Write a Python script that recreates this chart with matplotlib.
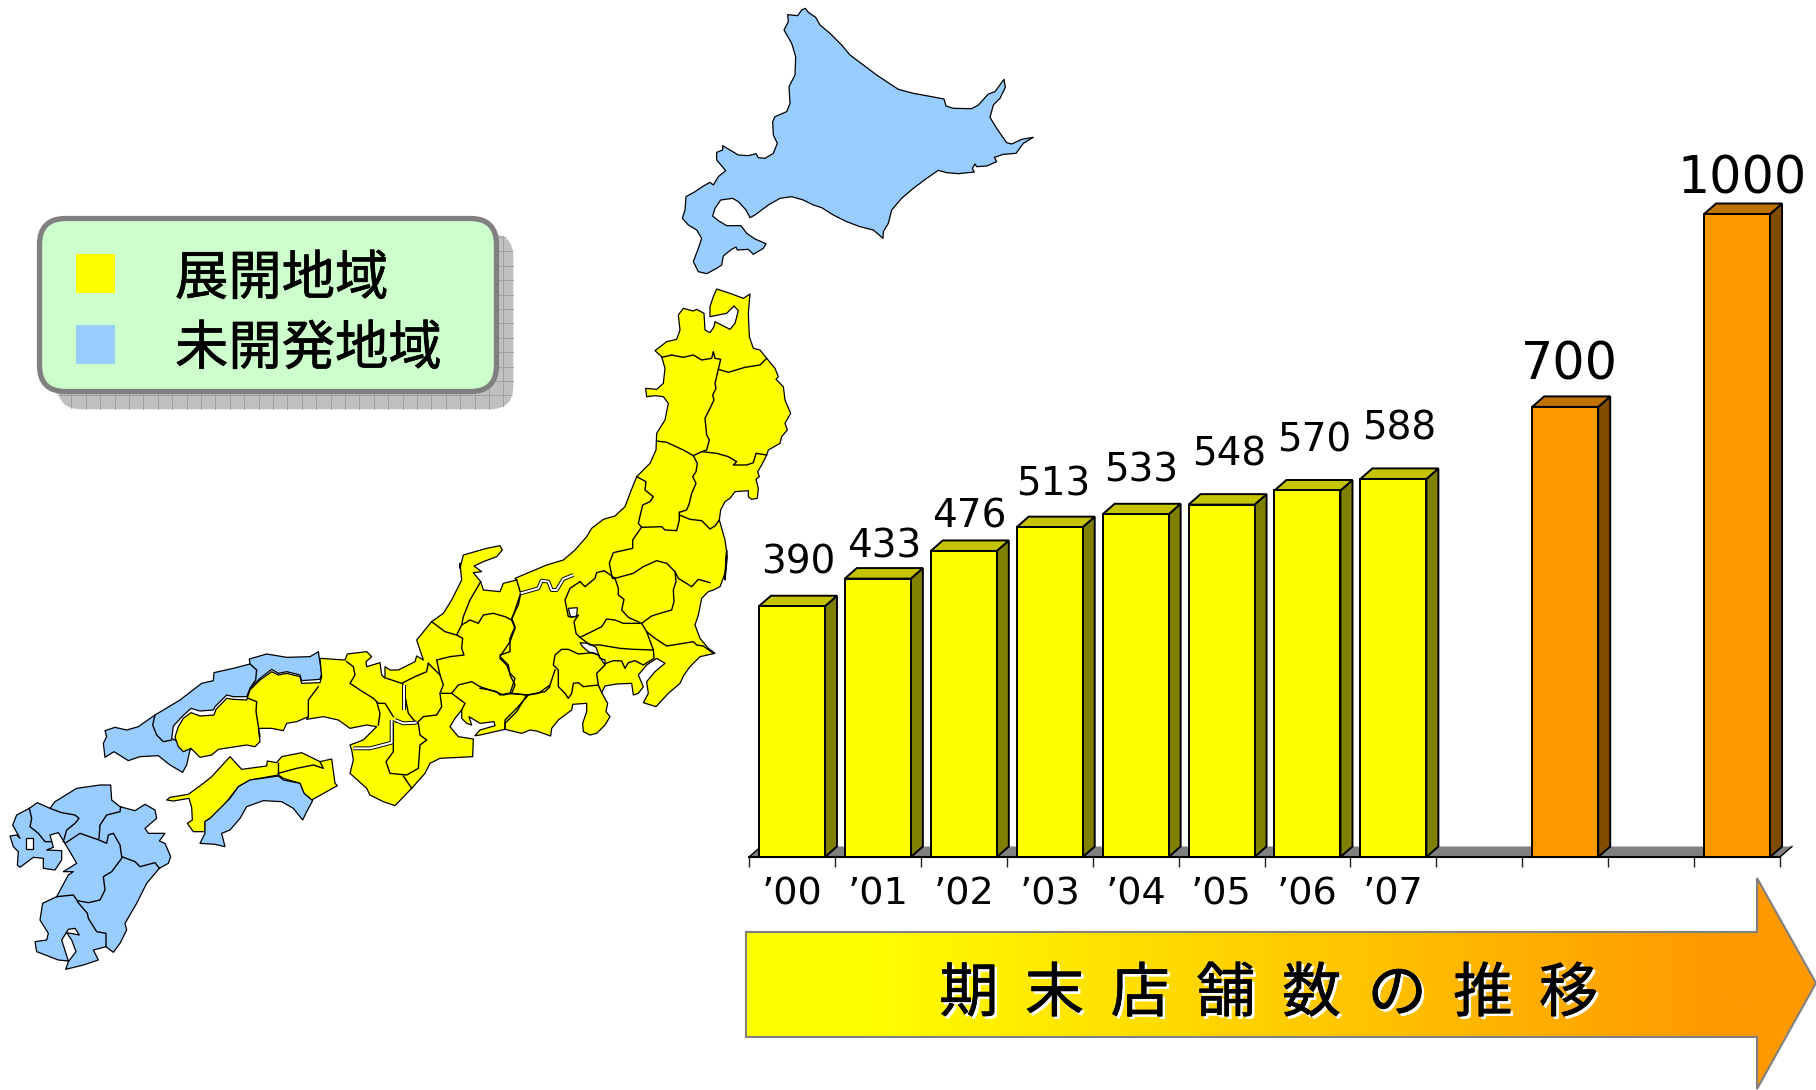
import numpy as np
import matplotlib
matplotlib.use('Agg')
import matplotlib.pyplot as plt
import matplotlib.patheffects as pe
from matplotlib.patches import Polygon, FancyBboxPatch, Rectangle
from matplotlib.colors import LinearSegmentedColormap

plt.rcParams['font.family'] = ['Noto Sans CJK JP', 'DejaVu Sans']

# chart data
year_labels = ['’00', '’01', '’02', '’03', '’04', '’05', '’06', '’07', '', '', '', '']
store_counts = [390, 433, 476, 513, 533, 548, 570, 588]
plan_slots = [9, 11]
plan_counts = [700, 1000]
legend_labels = ['展開地域', '未開発地域']
title_text = '期  末  店  舗  数  の  推  移'

YELLOW = '#FFFF00'
BLUE = '#99CCFF'
ORANGE = '#FF9900'

# label centres in pixels
store_label_pos = [(798, 562), (884, 546), (969, 516), (1053, 484), (1141, 470), (1229, 455), (1314, 440), (1399, 429)]
plan_label_pos = [(1569, 365), (1742, 179)]


def z(ox, oy, pts):
    return [(ox + x / 3, oy + y / 3) for x, y in pts]


Z1 = (660, 0)
Z2 = (400, 280)
Z3 = (150, 560)
Z4 = (0, 760)
Z9 = (500, 530)
Z10 = (90, 640)
Z12 = (480, 670)

hokkaido = z(*Z1, [(383,44),(413,47),(425,30),(436,25),(445,37),(467,52),(480,75),(510,100),(545,135),(570,165),(610,195),(650,225),(680,245),(715,268),(760,280),(815,290),(852,297),(858,318),(880,325),(935,326),(955,315),(985,282),(1005,275),(1032,238),(1036,262),(1020,295),(1000,315),(990,352),(1010,385),(1040,428),(1055,432),(1085,418),(1120,412),(1090,430),(1068,460),(1030,463),(1003,472),(1010,485),(980,498),(950,500),(945,492),(937,505),(943,516),(895,521),(860,518),(835,511),(800,535),(760,565),(725,595),(695,630),(685,670),(670,695),(669,715),(640,690),(600,680),(560,665),(520,645),(485,623),(460,615),(430,600),(395,590),(360,595),(325,615),(285,645),(270,653),(258,630),(235,605),(218,595),(182,600),(165,625),(158,648),(175,662),(200,677),(243,677),(260,700),(285,717),(318,731),(310,745),(280,763),(265,748),(232,750),(228,741),(212,750),(190,768),(185,795),(170,805),(140,821),(115,815),(100,785),(115,745),(125,715),(110,690),(85,675),(67,655),(75,630),(78,590),(105,575),(130,558),(150,547),(160,555),(175,530),(197,512),(170,480),(170,457),(188,450),(188,437),(210,450),(235,465),(265,467),(288,461),(295,473),(315,475),(340,460),(352,430),(340,405),(338,365),(345,350),(380,335),(390,310),(387,260),(405,225),(407,170),(395,130),(372,90),(385,65)])

honshu = (
    z(*Z2, [(950,27),(990,40),(1030,55),(1050,42),(1045,100),(1048,170),(1060,205),(1080,210),(1100,235),(1125,265),(1135,290),(1128,298),(1150,320),(1155,360),(1172,400),(1155,430),(1162,450),(1145,470),(1140,490),(1105,510),(1100,525),(1085,555),(1073,575),(1078,590),(1068,598),(1075,625),(1072,655),(1055,658),(1045,650),(1045,632),(1005,635),(990,655),(975,665),(962,690),(958,720),(975,780),(982,830),(975,900)])
    + z(*Z9, [(680,60),(675,130),(660,170),(640,180),(625,185),(605,205),(595,255),(585,285),(600,325),(625,355),(645,370),(600,380),(570,410),(552,435),(540,460),(505,490),(468,530),(430,518),(445,490),(440,455),(465,425),(495,400),(470,385),(440,405),(415,435),(430,470),(415,490),(400,495),(395,460),(350,462),(315,468),(305,488)])
    + z(*Z12, [(383,100),(378,125),(390,140),(375,165),(350,190),(330,195),(310,185),(308,160),(320,125),(320,100),(278,103),(275,120),(235,150),(215,175),(212,198),(170,183),(150,180),(125,190),(75,178),(0,195)])
    + z(*Z3, [(975,527),(990,510),(1035,497),(1032,485),(990,490),(957,470),(965,495),(950,490),(935,475),(935,450),(915,475),(900,500),(925,530),(970,537),(968,590),(870,595),(840,610),(825,640),(785,685),(735,737),(700,725),(660,705),(650,685),(600,640),(610,600),(605,570),(600,555),(640,540),(680,500),(650,495),(600,505),(565,480),(520,470),(470,478)])
    + z(*Z10, [(655,230),(620,245),(590,250),(580,272),(545,265),(505,265),(510,305),(495,320),(470,315),(385,328),(365,345),(330,352),(303,325),(280,335),(265,320),(255,291),(265,260),(280,235),(303,218),(330,228),(372,225),(378,208),(410,175),(430,178),(470,180),(480,150),(510,120),(545,95),(565,105),(590,100),(630,110),(635,130),(690,128)])
    + z(*Z3, [(515,350),(510,295),(585,300),(592,282),(650,275),(665,290),(648,305),(650,320),(690,308),(695,345),(705,355),(705,320),(720,330),(745,330),(795,305),(800,288),(820,300),(800,240),(845,185),(880,160),(905,120),(935,60),(930,10)])
    + z(*Z2, [(180,865),(190,825),(260,805),(300,797),(307,810),(290,830),(250,845),(222,858),(245,875)])
    + z(*Z3, [(970,38),(992,65),(1000,90),(1050,95),(1060,70),(1100,60)])
    + z(*Z2, [(345,895),(440,855),(490,840),(525,810),(560,770),(575,745),(610,718),(645,708),(675,680),(690,640),(710,590),(750,550),(768,510),(770,460),(795,420),(805,370),(790,350),(765,347),(740,350),(737,325),(770,328),(790,310),(795,265),(785,230),(765,212),(800,185),(830,178),(840,150),(835,105),(850,85),(880,93),(890,88),(912,100),(915,150),(930,158),(942,140),(945,125),(990,148),(1005,130),(1015,92),(1002,78),(980,100),(930,110),(930,80),(940,50)])
)

chugoku_blue = z(*Z10, [(45,272),(75,262),(110,270),(145,260),(195,225),(270,180),(335,130),(370,122),(372,98),(430,85),(480,72),(478,57),(530,42),(590,52),(660,50),(685,35),(695,100),(690,118),(635,122),(630,105),(590,95),(565,100),(545,88),(510,115),(480,145),(470,170),(430,170),(410,165),(375,200),(370,210),(330,213),(303,205),(278,228),(250,258),(245,295),(305,328),(300,330),(290,375),(278,397),(240,375),(205,347),(150,350),(115,362),(72,335),(45,352),(40,310),(50,290)])

shikoku_yellow = z(*Z3, [(50,720),(60,712),(115,703),(160,670),(185,650),(240,590),(275,628),(350,618),(352,603),(380,608),(395,590),(455,578),(510,605),(545,597),(555,670),(562,677),(485,720),(462,700),(450,670),(400,655),(385,645),(300,660),(265,680),(215,745),(180,775),(165,785),(165,815),(130,815),(112,790),(127,780),(125,742),(117,715),(70,723)])
shikoku_blue = z(*Z3, [(165,785),(180,775),(210,745),(240,715),(265,680),(300,660),(385,648),(400,660),(450,670),(462,700),(488,722),(470,755),(458,780),(430,745),(395,725),(340,722),(290,740),(270,775),(240,810),(215,820),(225,860),(195,853),(150,850),(165,820)])

kyushu = z(*Z4, [(230,85),(300,75),(332,75),(335,120),(360,140),(405,152),(435,133),(465,150),(470,175),(435,205),(445,220),(495,220),(478,243),(495,250),(512,290),(505,310),(478,325),(440,370),(410,430),(375,490),(380,510),(360,550),(340,577),(318,560),(300,565),(280,570),(295,600),(250,615),(197,628),(205,605),(228,575),(215,540),(200,518),(238,525),(225,505),(205,508),(185,540),(205,603),(175,600),(110,575),(105,545),(140,540),(145,520),(120,480),(128,430),(170,410),(205,345),(220,335),(190,335),(230,310),(195,250),(175,218),(150,225),(160,262),(140,270),(185,272),(185,300),(165,330),(130,325),(130,295),(100,292),(60,322),(52,315),(55,275),(40,260),(30,228),(50,225),(60,235),(38,195),(50,165),(88,145),(112,128),(150,145),(165,125)])
omura_bay = z(*Z4, [(78,235),(100,235),(100,268),(78,268)])

# prefecture borders
map_borders = [
    z(*Z2, [(785,232),(815,225),(850,232),(880,225),(905,240),(935,235),(940,215),(945,235),(962,238),(955,268),(985,277),(1035,262),(1080,255),(1100,235)]),
    z(*Z2, [(955,268),(945,310),(948,325),(938,345),(942,360),(930,385),(915,415),(920,465),(928,480),(920,510),(905,515),(880,527)]),
    z(*Z2, [(770,483),(800,487),(850,510),(880,527)]),
    z(*Z2, [(905,515),(950,520),(985,530),(1010,545),(1000,555),(1040,555),(1060,548),(1068,520),(1100,525)]),
    z(*Z2, [(880,527),(892,550),(888,575),(878,590),(888,610),(875,640),(868,670),(860,690),(838,697)]),
    z(*Z2, [(710,590),(738,605),(735,630),(760,650),(750,665),(728,675),(722,700),(715,730),(725,742),(785,740),(795,750),(830,752),(838,720),(838,697)]),
    z(*Z2, [(838,705),(870,718),(905,722),(930,747),(945,738),(958,720)]),
    z(*Z9, [(425,-9),(398,30),(398,55),(340,68),(328,100),(337,145),(345,145)]),
    z(*Z9, [(240,155),(255,170),(285,145),(290,128),(313,122),(345,145)]),
    z(*Z9, [(345,145),(400,130),(430,110),(470,92),(500,100),(525,125),(535,145),(575,170),(595,148),(630,158)]),
    z(*Z9, [(345,145),(355,175),(355,195),(372,208),(365,240),(385,262),(420,278)]),
    z(*Z9, [(525,125),(528,155),(520,180),(522,215),(515,240),(480,250),(455,258),(425,280)]),
    z(*Z9, [(425,280),(440,305),(465,325),(500,348),(550,340),(580,335),(590,345),(610,348),(640,370)]),
    z(*Z9, [(240,322),(265,310),(305,290),(320,267),(345,270),(370,280),(420,280)]),
    z(*Z9, [(240,155),(210,175),(195,210),(200,235),(205,260),(230,260),(235,255),(222,275),(228,310),(240,322)]),
    z(*Z9, [(440,305),(460,360),(400,358),(360,355),(300,345),(270,345),(240,322)]),
    z(*Z9, [(460,360),(462,385),(430,405),(405,392),(385,398),(375,415),(365,393),(340,392),(318,400)]),
    z(*Z9, [(295,375),(280,368),(235,372),(205,358),(185,358),(165,375),(160,405),(175,420),(175,470),(195,490),(205,505),(215,490),(220,460),(235,458),(250,470),(295,465),(290,430),(315,405)]),
    z(*Z9, [(295,465),(305,488)]),
    z(*Z9, [(62,190),(55,225),(35,265),(45,290),(30,325),(30,365),(0,375)]),
    z(*Z9, [(0,385),(20,405),(30,430),(45,445),(30,490)]),
    z(*Z12, [(145,75),(110,115),(75,150),(75,178)]),
    z(*Z12, [(0,55),(30,60),(50,65),(60,75),(85,70),(145,75),(175,70),(210,45),(225,0)]),
    z(*Z3, [(992,65),(960,120),(940,170),(935,195),(960,180),(985,190),(1000,165),(1030,160),(1065,170),(1085,180),(1112,100),(1100,60)]),
    z(*Z3, [(1085,180),(1095,205),(1080,245),(1050,290),(1075,315),(1080,345),(1095,375),(1085,400)]),
    z(*Z3, [(845,185),(885,215),(920,225),(935,195)]),
    z(*Z3, [(920,225),(938,235),(935,265),(942,285),(900,290),(860,300),(870,345),(880,375),(870,400),(905,400),(925,375),(965,365),(990,380),(1035,395),(1060,405),(1085,400),(1130,405),(1185,395),(1200,380)]),
    z(*Z3, [(1130,405),(1100,455),(1065,490),(1065,507)]),
    z(*Z3, [(835,310),(830,335),(795,350),(755,370),(710,355)]),
    z(*Z3, [(835,310),(870,345)]),
    z(*Z3, [(870,400),(875,440),(860,465),(820,470),(800,490),(775,460),(758,370)]),
    z(*Z3, [(905,400),(945,430),(935,450)]),
    z(*Z3, [(735,485),(790,490),(805,490),(810,525),(830,540),(810,555),(805,625),(770,645),(720,640),(708,605),(730,575),(730,490)]),
    z(*Z3, [(760,648),(785,685)]),
    z(*Z3, [(590,305),(610,320),(615,345),(600,370),(630,390),(670,415),(685,430),(705,430),(730,470)]),
    z(*Z3, [(680,425),(690,460),(685,495)]),
    z(*Z10, [(475,175),(500,185),(498,215),(510,290)]),
    z(*Z10, [(655,230),(655,180),(685,140)]),
    z(*Z10, [(195,225),(188,255),(200,285),(220,305),(245,300)]),
    z(*Z10, [(480,72),(500,90),(497,120),(480,145)]),
    z(*Z3, [(385,610),(385,645)]),
    z(*Z3, [(385,640),(440,625),(490,615),(520,625),(510,605)]),
    z(*Z4, [(88,145),(95,175),(90,200),(115,220),(135,245),(155,245)]),
    z(*Z4, [(150,145),(185,158),(225,165),(237,175),(225,190),(200,210),(190,245)]),
    z(*Z4, [(362,140),(360,155),(320,165),(300,195),(297,235)]),
    z(*Z4, [(195,250),(240,220),(297,240),(320,250),(325,225),(340,220),(360,255),(365,290)]),
    z(*Z4, [(365,290),(405,305),(420,320),(465,308),(478,325)]),
    z(*Z4, [(365,295),(335,335),(310,350),(315,390),(300,420),(265,428),(232,422),(220,405),(170,410)]),
    z(*Z4, [(232,425),(262,460),(265,475),(290,515),(318,520),(318,560)]),
]

# white double lines between some prefectures
map_gaps = [
    z(*Z9, [(62,190),(115,175),(125,152),(145,155),(155,180),(170,180),(190,147),(220,135)]),
    z(*Z3, [(763,375),(763,450)]),
    z(*Z3, [(610,565),(660,565),(725,548),(725,480)]),
    z(*Z3, [(735,480),(760,490),(800,488)]),
]
lake_strip = z(*Z9, [(240,338),(265,340),(288,352),(300,385),(315,390),(315,405),(295,375),(265,365),(248,350)])
lake_suwa = z(*Z9, [(205,235),(232,233),(230,258),(212,262)])

fig = plt.figure(figsize=(18.16, 10.9), dpi=100)
bg = fig.add_axes([0, 0, 1, 1])
bg.axis('off')

# map
for pts in [hokkaido, chugoku_blue, kyushu]:
    bg.add_patch(Polygon(pts, closed=True, fc=BLUE, ec='black', lw=0.9, joinstyle='round'))
bg.add_patch(Polygon(honshu, closed=True, fc=YELLOW, ec='black', lw=0.9, joinstyle='round'))
bg.add_patch(Polygon(shikoku_yellow, closed=True, fc=YELLOW, ec='black', lw=0.9, joinstyle='round'))
bg.add_patch(Polygon(shikoku_blue, closed=True, fc=BLUE, ec='black', lw=0.9, joinstyle='round'))
for pts in [omura_bay, lake_strip, lake_suwa]:
    bg.add_patch(Polygon(pts, closed=True, fc='white', ec='black', lw=0.9))
for line in map_borders:
    xs, ys = zip(*line)
    bg.plot(xs, ys, color='black', lw=1.0, solid_joinstyle='round')
for line in map_gaps:
    xs, ys = zip(*line)
    bg.plot(xs, ys, color='black', lw=2.8, solid_capstyle='butt')
    bg.plot(xs, ys, color='white', lw=1.4, solid_capstyle='butt')

# legend box with its grid shadow
shadow = FancyBboxPatch((57 + 24, 233 + 24), 457 - 48, 177 - 48, boxstyle='round,pad=24,rounding_size=24',
                        fc='#C0C0C0', ec='white', lw=1.0, zorder=3)
bg.add_patch(shadow)
for gx in np.arange(57, 515, 14.4):
    bg.plot([gx, gx], [233, 410], color='#A0A0A0', lw=0.7, zorder=3.1, clip_path=shadow)
for gy in np.arange(237, 411, 14.4):
    bg.plot([57, 514], [gy, gy], color='#A0A0A0', lw=0.7, zorder=3.1, clip_path=shadow)
bg.add_patch(FancyBboxPatch((39.5 + 26, 218.5 + 26), 457 - 52, 173 - 52, boxstyle='round,pad=26,rounding_size=26',
                            fc='#CCFFCC', ec='#808080', lw=3.8, zorder=4))
bg.add_patch(Rectangle((76, 254), 39, 39, fc=YELLOW, ec='none', zorder=5))
bg.add_patch(Rectangle((76, 325), 39, 39, fc=BLUE, ec='none', zorder=5))
bold_black = [pe.withStroke(linewidth=0.5, foreground='black')]
bold_white = [pe.withStroke(linewidth=0.5, foreground='white')]
for label, y in zip(legend_labels, [273, 343]):
    bg.text(175, y, label, fontsize=38.4, color='black', ha='left', va='center_baseline', zorder=6, path_effects=bold_black)

# gradient arrow
arrow_pts = [(746, 932), (1757, 932), (1757, 878), (1816, 983), (1757, 1089), (1757, 1037), (746, 1037)]
arrow = Polygon(arrow_pts, closed=True, fc='none', ec='#808080', lw=1.5, zorder=3)
cmap = LinearSegmentedColormap.from_list('arrow', [YELLOW, ORANGE])
grad = np.clip((np.arange(746, 1817) - 860) / (1720 - 860), 0, 1).reshape(1, -1)
img = bg.imshow(grad, cmap=cmap, aspect='auto', extent=(746, 1816, 1090, 878), zorder=2.9)
bg.add_patch(arrow)
img.set_clip_path(arrow)
bg.set_xlim(0, 1816)
bg.set_ylim(1090, 0)
bg.text(1271, 990.5, title_text, fontsize=42.6, color='white', ha='center', va='center_baseline', zorder=4, path_effects=bold_white)
bg.text(1268.5, 988, title_text, fontsize=42.6, color='black', ha='center', va='center_baseline', zorder=5, path_effects=bold_black)

# bar chart, 12 slots from x=749 to 1780, baseline y=857
ax = fig.add_axes([749 / 1816, (1090 - 857) / 1090, 1031 / 1816, 757 / 1090])
ax.patch.set_alpha(0)
ax.set_xlim(0, 12)
ax.set_ylim(0, 757 / 0.643)
for s in ['top', 'left', 'right']:
    ax.spines[s].set_visible(False)
ax.spines['bottom'].set_linewidth(1.5)
ax.set_yticks([])
ax.set_xticks(np.arange(13))
ax.set_xticklabels([])
ax.set_xticks(np.arange(12) + 0.5, labels=year_labels, minor=True)
ax.tick_params(axis='x', which='major', length=7.5, width=1.0, color='#222222')
ax.tick_params(axis='x', which='minor', length=0, pad=14)
for t in ax.get_xticklabels(minor=True):
    t.set_fontsize(27.5)
    t.set_fontfamily('DejaVu Sans')

DEPTH_X = 12 / 85.9
DEPTH_Y = 10.5 / 0.643
BAR_W = 66 / 85.9

ax.add_patch(Polygon([(0, 0), (12, 0), (12 + DEPTH_X, DEPTH_Y), (DEPTH_X, DEPTH_Y)], closed=True,
                     fc='#808080', ec='none', clip_on=False, zorder=1))
for x0 in [0, 12]:
    ax.plot([x0, x0 + DEPTH_X], [0, DEPTH_Y], color='black', lw=1.0, clip_on=False, zorder=1)


def bar3d(xc, val, front, top, side):
    x0 = xc - BAR_W / 2
    x1 = xc + BAR_W / 2
    ax.add_patch(Polygon([(x1, 0), (x1 + DEPTH_X, DEPTH_Y), (x1 + DEPTH_X, val + DEPTH_Y), (x1, val)], closed=True,
                         fc=side, ec='black', lw=1.4, clip_on=False, zorder=2))
    ax.add_patch(Polygon([(x0, val), (x1, val), (x1 + DEPTH_X, val + DEPTH_Y), (x0 + DEPTH_X, val + DEPTH_Y)], closed=True,
                         fc=top, ec='black', lw=1.4, clip_on=False, zorder=2))
    ax.bar(xc, val, width=BAR_W, color=front, edgecolor='black', linewidth=1.4, zorder=3)


for i, v in enumerate(store_counts):
    bar3d(i + 0.5, v, YELLOW, '#C4C400', '#808000')
for slot, v in zip(plan_slots, plan_counts):
    bar3d(slot + 0.5, v, ORANGE, '#C07300', '#804D00')

for v, (px, py) in zip(store_counts, store_label_pos):
    bg.text(px, py, str(v), fontsize=28, family='DejaVu Sans', ha='center', va='center', color='black')
for v, (px, py) in zip(plan_counts, plan_label_pos):
    bg.text(px, py, str(v), fontsize=36.5, family='DejaVu Sans', ha='center', va='center', color='black')

fig.savefig('out.png', dpi=100)
